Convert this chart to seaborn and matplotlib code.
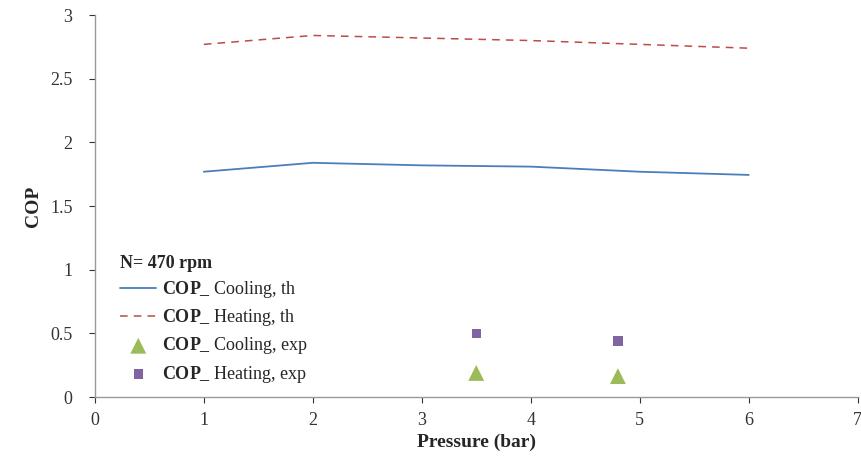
import numpy as np
import pandas as pd
import matplotlib
matplotlib.use("Agg")
import matplotlib.pyplot as plt
import seaborn as sns

# data
pressure_th = [1, 2, 3, 4, 5, 6]
cop_cooling_th = [1.77, 1.84, 1.82, 1.81, 1.77, 1.745]
cop_heating_th = [2.77, 2.84, 2.82, 2.80, 2.77, 2.74]

pressure_exp = [3.5, 4.8]
cop_cooling_exp = [0.19, 0.165]
cop_heating_exp = [0.50, 0.44]

sns.set_style("white")
plt.rcParams['font.family'] = ['Liberation Serif', 'DejaVu Serif']
plt.rcParams['mathtext.fontset'] = 'custom'
plt.rcParams['mathtext.rm'] = 'Liberation Serif'
plt.rcParams['mathtext.bf'] = 'Liberation Serif:bold'

th = pd.DataFrame({'p': pressure_th, 'cool': cop_cooling_th, 'heat': cop_heating_th})
ex = pd.DataFrame({'p': pressure_exp, 'cool': cop_cooling_exp, 'heat': cop_heating_exp})

fig = plt.figure(figsize=(8.62, 4.57), dpi=100)
ax = fig.add_axes([0.110, 0.131, 0.885, 0.836])

lbl = lambda s: r'$\mathbf{COP\_}$ ' + s
sns.lineplot(data=th, x='p', y='cool', ax=ax, color='#4a7ebb', linewidth=1.3,
             label=lbl('Cooling, th'))
sns.lineplot(data=th, x='p', y='heat', ax=ax, color='#be4b48', linewidth=1.1,
             linestyle=(0, (5, 4)), label=lbl('Heating, th'))
sns.scatterplot(data=ex, x='p', y='cool', ax=ax, color='#9bbb59', marker='^', s=130,
                edgecolor='none', label=lbl('Cooling, exp'))
sns.scatterplot(data=ex, x='p', y='heat', ax=ax, color='#8064a2', marker='s', s=45,
                edgecolor='none', label=lbl('Heating, exp'))

ax.set_xlim(0, 7)
ax.set_ylim(0, 3)
ax.set_xticks(range(0, 8))
ax.set_yticks([0, 0.5, 1, 1.5, 2, 2.5, 3])
ax.set_yticklabels(['0', '0.5', '1', '1.5', '2', '2.5', '3'])
ax.tick_params(axis='both', labelsize=13, colors='#333333', length=4, width=0.8,
               direction='out', left=True, bottom=True)
ax.tick_params(axis='y', pad=12)
ax.tick_params(axis='x', pad=7)
ax.set_xlabel('Pressure (bar)', fontsize=14, fontweight='bold', labelpad=3)
ax.set_ylabel('COP', fontsize=14, fontweight='bold', labelpad=6)

for side in ['top', 'right']:
    ax.spines[side].set_visible(False)
for side in ['left', 'bottom']:
    ax.spines[side].set_color('#999999')
    ax.spines[side].set_linewidth(1.0)

leg = ax.legend(loc='lower left', bbox_to_anchor=(0.012, -0.01), frameon=False,
                title='N= 470 rpm', fontsize=13, handlelength=2.0,
                handletextpad=0.3, labelspacing=0.4)
leg.get_title().set_fontweight('bold')
leg.get_title().set_fontsize(13)
leg._legend_box.align = 'left'

fig.savefig('out.png', dpi=100)
